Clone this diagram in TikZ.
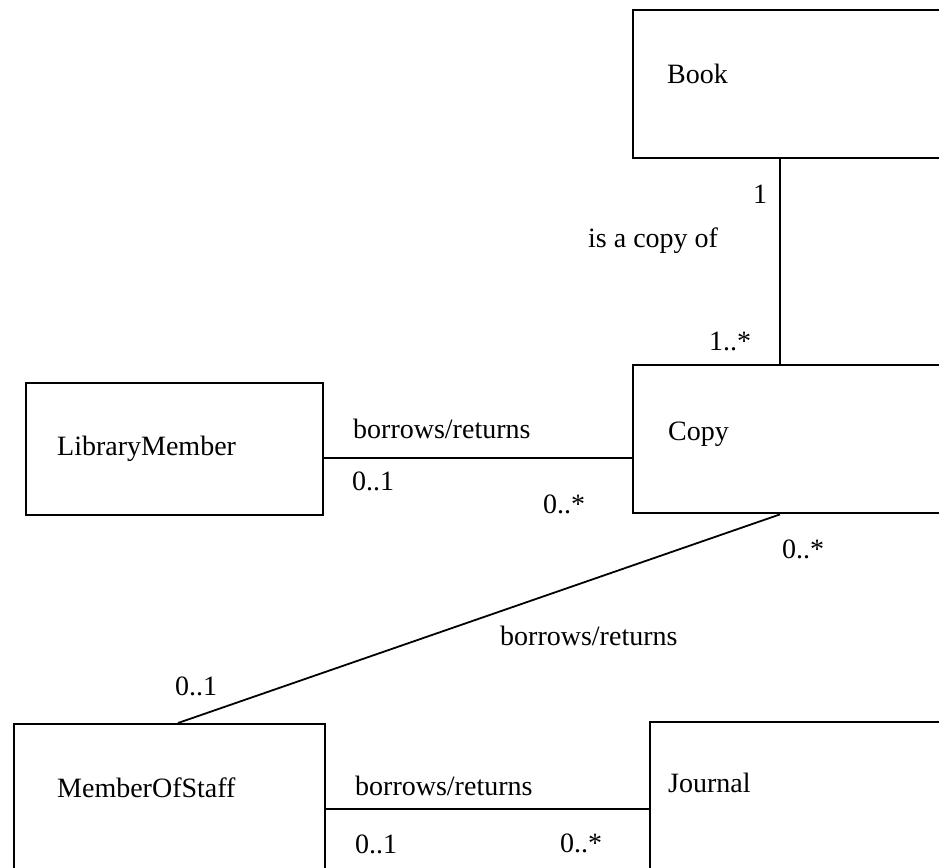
\documentclass[tikz,border=0pt]{standalone}
\usepackage{fontspec}
\setmainfont{Liberation Serif}
\begin{document}
\begin{tikzpicture}[x=1pt,y=-1pt,
       classbox/.style={draw,line width=2.4pt,rectangle,anchor=north west,inner sep=0pt},
       assoc/.style={line width=1.8pt},
       lbl/.style={anchor=base west,inner sep=0pt,font=\fontsize{28}{32}\selectfont}]
       \useasboundingbox (0,0) rectangle (939,867);
       \clip (0,0) rectangle (939,867);

       % The classes (some run off the page)
       \node[classbox,minimum width=368pt,minimum height=148pt] (book) at (632,9) {};
       \node[classbox,minimum width=368pt,minimum height=148pt] (copy) at (632,364) {};
       \node[classbox,minimum width=297pt,minimum height=132pt] (libmem) at (25,382) {};
       \node[classbox,minimum width=311pt,minimum height=200pt] (staff) at (13,723) {};
       \node[classbox,minimum width=351pt,minimum height=200pt] (journal) at (649,721) {};

       % Class names
       \node[lbl] (booktxt) at (667,83) {Book};
       \node[lbl] (copytxt) at (668,440) {Copy};
       \node[lbl] (libmemtxt) at (57,455) {LibraryMember};
       \node[lbl] (stafftxt) at (57,797) {MemberOfStaff};
       \node[lbl] (journaltxt) at (668,792) {Journal};

       % Ports where the associations meet the boxes
       \coordinate (bookport) at (book.south -| 780,0);
       \coordinate (copytop) at (copy.north -| 780,0);
       \coordinate (copybot) at (copy.south -| 780,0);
       \coordinate (staffport) at (staff.north -| 178,0);
       \coordinate (libport) at ([yshift=-9pt]libmem.east);
       \coordinate (staffside) at (staff.north east |- 0,809);

       % Associations
       \draw[assoc] (bookport) -- (copytop);
       \draw[assoc] (libport) -- (libport -| copy.west);
       \draw[assoc] (copybot) -- (staffport);
       \draw[assoc] (staffside) -- (staffside -| journal.west);

       % Association names and multiplicities
       \node[lbl] (m1) at (753,203) {1};
       \node[lbl] (copyof) at (588,247) {is a copy of};
       \node[lbl] (m2) at (709,350) {1..*};

       \node[lbl] (br1) at (353,438) {borrows/returns};
       \node[lbl] (m3) at (352,490) {0..1};
       \node[lbl] (m4) at (543,513) {0..*};

       \node[lbl] (m5) at (782,558) {0..*};
       \node[lbl] (br2) at (500,645) {borrows/returns};
       \node[lbl] (m6) at (175,695) {0..1};

       \node[lbl] (br3) at (355,795) {borrows/returns};
       \node[lbl] (m7) at (355,853) {0..1};
       \node[lbl] (m8) at (560,852) {0..*};
\end{tikzpicture}
\end{document}
